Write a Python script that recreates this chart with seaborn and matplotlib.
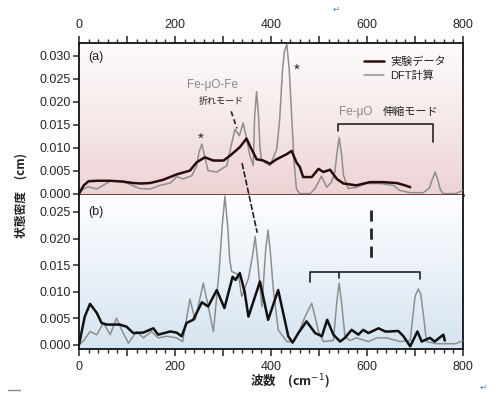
import numpy as np
import pandas as pd
import matplotlib
matplotlib.use("Agg")
import matplotlib.pyplot as plt
import seaborn as sns
from matplotlib.colors import LinearSegmentedColormap
from matplotlib.patches import ConnectionPatch
from matplotlib.ticker import MultipleLocator, FixedLocator

# (a) experimental / DFT spectra (wavenumber in cm^-1, DOS in cm)
a_exp_x = [0, 10, 20, 40, 65, 92, 113, 130, 148, 175, 204, 231, 245, 262, 280, 301, 315,
           335, 349, 356, 370, 384, 398, 412, 433, 443, 453, 460, 467, 485, 499, 509, 523,
           537, 551, 578, 606, 634, 662, 679, 690]
a_exp_y = [0, 0.0018, 0.0027, 0.0028, 0.0028, 0.0026, 0.0023, 0.0022, 0.0023, 0.0030, 0.0042,
           0.0050, 0.0068, 0.0079, 0.0072, 0.0072, 0.0083, 0.0101, 0.0120, 0.0104, 0.0075,
           0.0072, 0.0065, 0.0075, 0.0086, 0.0093, 0.0068, 0.0058, 0.0036, 0.0036, 0.0054,
           0.0047, 0.0052, 0.0032, 0.0022, 0.0018, 0.0025, 0.0025, 0.0023, 0.0018, 0.0014]

a_dft_x = [0, 9, 19, 37, 65, 92, 110, 127, 148, 169, 190, 204, 217, 235, 245, 250, 256, 262,
           269, 287, 308, 316, 325, 334, 342, 349, 356, 363, 366, 370, 374, 377, 380, 387, 398,
           412, 418, 424, 428, 433, 438, 443, 448, 453, 460, 470, 481, 492, 505, 516, 526, 533,
           537, 542, 547, 551, 561, 578, 599, 627, 655, 668, 690, 717, 730, 735, 742, 748, 752,
           758, 785, 800]
a_dft_y = [0, 0.0010, 0.0015, 0.0010, 0.0027, 0.0027, 0.0018, 0.0011, 0.0010, 0.0018, 0.0023,
           0.0037, 0.0032, 0.0039, 0.0060, 0.0090, 0.0108, 0.0080, 0.0050, 0.0047, 0.0061,
           0.0100, 0.0140, 0.0126, 0.0154, 0.0120, 0.0083, 0.0061, 0.0170, 0.0222, 0.0170,
           0.0100, 0.0075, 0.0068, 0.0061, 0.0097, 0.0160, 0.0270, 0.0310, 0.0325, 0.0270,
           0.0170, 0.0070, 0.0010, 0.0, 0.0, 0.0, 0.0011, 0.0038, 0.0014, 0.0025, 0.0047,
           0.0085, 0.0122, 0.0085, 0.0040, 0.0011, 0.0014, 0.0022, 0.0022, 0.0018, 0.0007,
           0.0002, 0.0002, 0.0012, 0.0028, 0.0047, 0.0028, 0.0011, 0.0, 0.0, 0.0007]

# (b)
b_exp_x = [0, 12, 23, 37, 47, 58, 85, 99, 113, 134, 155, 165, 190, 203, 214, 224, 238, 256,
           269, 287, 303, 320, 326, 335, 345, 353, 377, 394, 415, 436, 445, 457, 474, 492, 506,
           517, 530, 544, 554, 568, 582, 592, 603, 624, 638, 648, 665, 676, 690, 705, 714, 731,
           741, 759, 762]
b_exp_y = [0, 0.0053, 0.0077, 0.0060, 0.0041, 0.0038, 0.0038, 0.0034, 0.0022, 0.0023, 0.0031,
           0.0019, 0.0025, 0.0023, 0.0016, 0.0041, 0.0047, 0.0080, 0.0072, 0.0103, 0.0069,
           0.0128, 0.0122, 0.0135, 0.0100, 0.0053, 0.0119, 0.0047, 0.0103, 0.0016, 0.0004,
           0.0022, 0.0044, 0.0022, 0.0016, 0.0047, 0.0019, 0.0006, 0.0013, 0.0028, 0.0019,
           0.0028, 0.0022, 0.0031, 0.0025, 0.0025, 0.0026, 0.0016, -0.0003, 0.0025, 0.0006,
           0.0013, 0.0006, 0.0019, 0.0008]

b_dft_x = [0, 10, 23, 37, 51, 65, 78, 92, 103, 120, 134, 151, 165, 183, 203, 216, 231, 242,
           259, 280, 292, 298, 304, 310, 314, 318, 332, 339, 353, 362, 367, 372, 377, 381, 389,
           394, 399, 405, 415, 433, 447, 460, 471, 485, 499, 509, 530, 537, 542, 547, 554, 564,
           578, 603, 620, 641, 669, 690, 700, 707, 712, 717, 724, 744, 785, 800]
b_dft_y = [0, 0.0008, 0.0025, 0.0019, 0.0041, 0.0019, 0.0050, 0.0022, 0.0003, 0.0025, 0.0013,
           0.0025, 0.0013, 0.0016, 0.0013, 0.0006, 0.0086, 0.0047, 0.0116, 0.0025, 0.0140,
           0.0220, 0.0280, 0.0220, 0.0160, 0.0138, 0.0132, 0.0091, 0.0125, 0.0170, 0.0204,
           0.0160, 0.0110, 0.0072, 0.0180, 0.0216, 0.0170, 0.0103, 0.0028, 0.0006, 0.0006,
           0.0028, 0.0053, 0.0078, 0.0025, 0.0006, 0.0008, 0.0080, 0.0116, 0.0080, 0.0016,
           0.0008, 0.0013, 0.0006, 0.0013, 0.0013, 0.0006, 0.0008, 0.0091, 0.0105, 0.0095,
           0.0060, 0.0006, 0.0002, 0.0002, 0.0008]

x_ticklabels = ["0", "", "200", "", "400", "", "600", "", "800"]

sns.set_style("ticks")
plt.rcParams['font.family'] = ['Liberation Sans', 'Noto Sans CJK JP', 'DejaVu Sans']
plt.rcParams['axes.linewidth'] = 1.3
cjk = ['Noto Sans CJK JP', 'DejaVu Sans']

fig = plt.figure(figsize=(5, 3.99), dpi=100)
ax_a = fig.add_axes([0.158, 0.5113, 0.768, 0.381])
ax_b = fig.add_axes([0.158, 0.1253, 0.768, 0.386])

exp_col_a = '#2a0c0c'
exp_col_b = '#111111'
dft_col = '#8e8e8e'

# gradient backgrounds
grad = np.linspace(0, 1, 256).reshape(-1, 1)
cmap_a = LinearSegmentedColormap.from_list('a', ['#edd3d4', '#f6e9e9', '#fdfbfb'])
cmap_b = LinearSegmentedColormap.from_list('b', ['#d6e4f1', '#eaf1f8', '#fdfeff'])
ylim_a = (-0.0003, 0.0328)
ylim_b = (-0.0008, 0.0282)
ax_a.imshow(grad, extent=[0, 800, ylim_a[0], ylim_a[1]], origin='lower', aspect='auto',
            cmap=cmap_a, zorder=0)
ax_b.imshow(grad, extent=[0, 800, ylim_b[0], ylim_b[1]], origin='lower', aspect='auto',
            cmap=cmap_b, zorder=0)

df_a_exp = pd.DataFrame({'x': a_exp_x, 'y': a_exp_y})
df_a_dft = pd.DataFrame({'x': a_dft_x, 'y': a_dft_y})
df_b_exp = pd.DataFrame({'x': b_exp_x, 'y': b_exp_y})
df_b_dft = pd.DataFrame({'x': b_dft_x, 'y': b_dft_y})

line_kw = dict(sort=False, estimator=None, solid_joinstyle='round', solid_capstyle='round')
sns.lineplot(data=df_a_dft, x='x', y='y', ax=ax_a, color=dft_col, lw=1.1,
             label='DFT計算', zorder=3, **line_kw)
sns.lineplot(data=df_a_exp, x='x', y='y', ax=ax_a, color=exp_col_a, lw=1.8,
             label='実験データ', zorder=4, **line_kw)
sns.lineplot(data=df_b_dft, x='x', y='y', ax=ax_b, color=dft_col, lw=1.1, zorder=3, **line_kw)
sns.lineplot(data=df_b_exp, x='x', y='y', ax=ax_b, color=exp_col_b, lw=1.8, zorder=4, **line_kw)

for ax, yl, top in [(ax_a, ylim_a, 0.030), (ax_b, ylim_b, 0.025)]:
    ax.set_xlim(0, 800)
    ax.set_ylim(*yl)
    ax.set_xlabel('')
    ax.set_ylabel('')
    ticks = np.arange(0, top + 0.0001, 0.005)
    ax.yaxis.set_major_locator(FixedLocator(ticks))
    ax.set_yticklabels([f"{t:.3f}" for t in ticks])
    ax.set_xticks(np.arange(0, 801, 100))
    ax.set_xticklabels(x_ticklabels)
    ax.xaxis.set_minor_locator(MultipleLocator(20))
    ax.tick_params(axis='y', direction='out', length=4, width=1.1, labelsize=9, pad=2)
    ax.tick_params(axis='x', which='major', direction='out', length=5, width=1.1, labelsize=9)
    ax.tick_params(axis='x', which='minor', direction='out', length=3, width=1.0)
    for s in ax.spines.values():
        s.set_visible(True)
        s.set_color('#111111')

ax_a.xaxis.tick_top()
ax_a.tick_params(axis='x', which='both', bottom=False, top=True, labelbottom=False, labeltop=True)
ax_a.spines['bottom'].set_color('#4a1414')
ax_a.spines['bottom'].set_linewidth(1.8)
ax_a.spines['bottom'].set_zorder(6)
ax_b.spines['top'].set_visible(False)
ax_b.tick_params(axis='x', which='both', top=False, bottom=True)

# legend
ax_a.legend(handles=ax_a.get_lines()[::-1], labels=['実験データ', 'DFT計算'],
            loc='upper left', bbox_to_anchor=(0.73, 0.94), frameon=False, fontsize=8,
            handlelength=1.8, handletextpad=0.6, labelspacing=0.3, borderaxespad=0)

# annotations panel (a)
ax_a.text(20, 0.0297, '(a)', fontsize=9, ha='left', va='center', color='#222222')
ax_a.text(279, 0.0237, 'Fe-μO-Fe', fontsize=8.5, color='#888888', ha='center', va='center')
ax_a.text(296, 0.0200, '折れモード', fontsize=6.5, color='#222222', ha='center', va='center',
          family=cjk)
ax_a.text(254, 0.0120, '*', fontsize=11, color='#222222', ha='center', va='center')
ax_a.text(454, 0.0270, '*', fontsize=11, color='#222222', ha='center', va='center')
ax_a.text(542, 0.0177, 'Fe-μO', fontsize=8.5, color='#888888', ha='left', va='center')
ax_a.text(634, 0.0177, '伸縮モード', fontsize=8, color='#222222', ha='left', va='center',
          family=cjk)
ax_a.plot([540, 540, 737, 737], [0.0136, 0.0151, 0.0151, 0.0112], color='#222222', lw=1.2)
ax_a.plot([317, 329], [0.0179, 0.0142], color='#222222', lw=1.2, ls=(0, (3, 2)))

con = ConnectionPatch(xyA=(340, 0.0065), coordsA=ax_a.transData,
                      xyB=(371, 0.0212), coordsB=ax_b.transData,
                      color='#222222', lw=1.2, ls=(0, (3, 2)), zorder=7)
fig.add_artist(con)

# annotations panel (b)
ax_b.text(20, 0.0250, '(b)', fontsize=9, ha='left', va='center', color='#222222')
ax_b.plot([481, 481, 710, 710], [0.0118, 0.0137, 0.0137, 0.0124], color='#222222', lw=1.2)
ax_b.plot([542, 542], [0.0137, 0.0126], color='#222222', lw=1.2)
ax_b.plot([608, 608], [0.0254, 0.0154], color='#222222', lw=2.0, ls=(0, (4, 2.5)))

# axis labels
fig.text(0.042, 0.51, '状態密度　(cm)', rotation=90, fontsize=8.5, fontweight='bold',
         ha='center', va='center', color='#222222', family=cjk)
fig.text(0.58, 0.043, '波数　(cm$^{-1}$)', fontsize=9, fontweight='bold',
         ha='center', va='center', color='#222222', family=cjk)

# document marks
fig.text(0.672, 0.978, '↵', fontsize=6, color='#3a7fd5', ha='center', va='center',
         family=['DejaVu Sans'])
fig.text(0.966, 0.03, '↵', fontsize=6, color='#3a7fd5', ha='center', va='center',
         family=['DejaVu Sans'])
fig.add_artist(plt.Line2D([0.016, 0.04], [0.022, 0.022], color='#888888', lw=1))

fig.savefig('out.png', dpi=100)
